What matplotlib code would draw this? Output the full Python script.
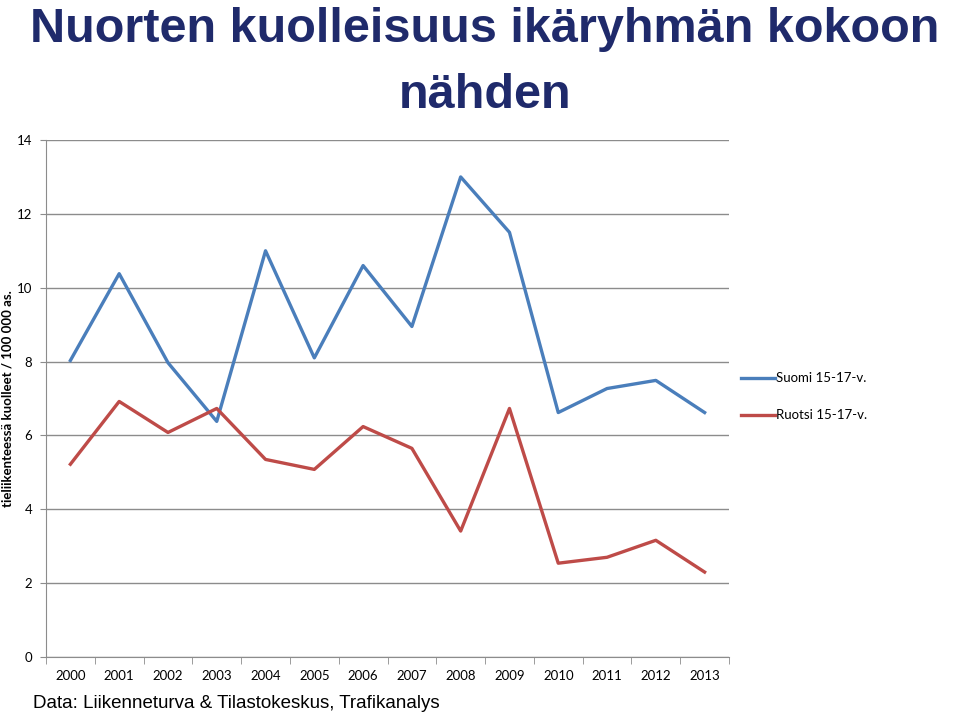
"""
Nuorten kuolleisuus ikäryhmän kokoon nähden - viivakaavio
"""

import matplotlib
matplotlib.use('Agg')
import matplotlib.pyplot as plt
from matplotlib.ticker import MultipleLocator

# Data
vuodet = ['2000', '2001', '2002', '2003', '2004', '2005', '2006',
          '2007', '2008', '2009', '2010', '2011', '2012', '2013']
suomi = [8.03, 10.38, 7.97, 6.38, 11.0, 8.1, 10.6, 8.95, 13.0, 11.5, 6.62, 7.27, 7.49, 6.62]
ruotsi = [5.22, 6.92, 6.08, 6.73, 5.35, 5.08, 6.24, 5.65, 3.41, 6.73, 2.54, 2.70, 3.16, 2.30]

otsikko = 'Nuorten kuolleisuus ikäryhmän kokoon\nnähden'
y_otsikko = 'tieliikenteessä kuolleet / 100 000 as.'
lahde = 'Data: Liikenneturva & Tilastokeskus, Trafikanalys'

tick_font = ['Lato', 'DejaVu Sans']
narrow = ['Liberation Sans Narrow', 'Liberation Sans', 'DejaVu Sans']

fig = plt.figure(figsize=(9.6, 7.14), dpi=100)
ax = fig.add_axes([46 / 960, 57 / 714, 683 / 960, 517 / 714])

x = list(range(len(vuodet)))
ax.plot(x, suomi, color='#4A7EBB', linewidth=2.4, label='Suomi 15-17-v.')
ax.plot(x, ruotsi, color='#BE4B48', linewidth=2.4, label='Ruotsi 15-17-v.')

ax.set_xlim(-0.5, len(vuodet) - 0.5)
ax.set_ylim(0, 14)
ax.yaxis.set_major_locator(MultipleLocator(2))
ax.grid(axis='y', color='#8c8c8c', linewidth=1)
ax.set_axisbelow(True)

ax.set_xticks(x)
ax.set_xticklabels(vuodet, family=tick_font, fontsize=9.5)
ax.set_xticks([i - 0.5 for i in range(len(vuodet) + 1)], minor=True)
ax.tick_params(axis='x', which='major', length=0, pad=9)
ax.tick_params(axis='x', which='minor', length=5, color='#8c8c8c')
ax.tick_params(axis='y', length=4, color='#8c8c8c', labelsize=9.5, pad=6)
for lab in ax.get_yticklabels():
    lab.set_family(tick_font)

for side in ['top', 'right']:
    ax.spines[side].set_visible(False)
for side in ['left', 'bottom']:
    ax.spines[side].set_color('#8c8c8c')

ax.set_ylabel(y_otsikko, family=tick_font, fontsize=9.5, fontweight='bold')
ax.yaxis.set_label_coords(-0.047, 0.5)

leg = ax.legend(loc='center left', bbox_to_anchor=(1.0, 0.503), frameon=False,
                prop={'family': tick_font, 'size': 9.5}, handlelength=2.6,
                handletextpad=0.1, labelspacing=1.9)

fig.text(0.505, 0.99, otsikko, ha='center', va='top', family=narrow,
         fontsize=35, fontweight='bold', color='#1F2A6B', linespacing=1.6)
fig.text(33 / 960, 11 / 714, lahde, ha='left', va='center', family=narrow,
         fontsize=13.5)

plt.savefig('out.png', dpi=100)
